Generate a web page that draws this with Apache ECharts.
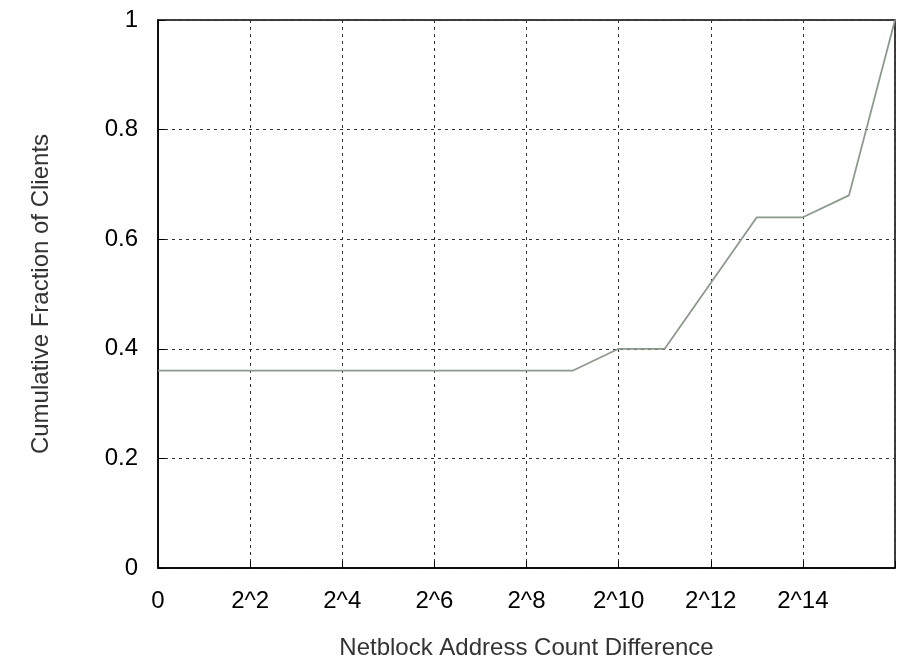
<!DOCTYPE html>
<html>
<head>
<meta charset="utf-8">
<script src="https://cdn.jsdelivr.net/npm/echarts@6/dist/echarts.min.js"></script>
<style>
  html, body { margin: 0; padding: 0; background: #fff; }
  #chart { width: 904px; height: 665px; }
</style>
</head>
<body>
<div id="chart"></div>
<script>
// x is log2 of the address count difference
const xExp = [0, 9, 10, 11, 12, 13, 14, 15, 16];
const cdf = [0.36, 0.36, 0.40, 0.40, 0.52, 0.64, 0.64, 0.68, 1.0];
const xTickLabels = ['0', '2^2', '2^4', '2^6', '2^8', '2^10', '2^12', '2^14', ''];

const chart = echarts.init(document.getElementById('chart'));
const font = 'Liberation Sans, Arial, sans-serif';

chart.setOption({
  animation: false,
  grid: { left: 158, right: 9, top: 20, bottom: 80, show: true, borderColor: '#000', borderWidth: 1.5 },
  xAxis: {
    type: 'value', min: 0, max: 16, interval: 2,
    name: 'Netblock Address Count Difference', nameLocation: 'middle', nameGap: 68,
    nameTextStyle: { fontFamily: font, fontSize: 24, color: '#333' },
    axisLine: { show: true, lineStyle: { color: '#000', width: 1.5 } },
    axisTick: { show: true, inside: true, length: 7, lineStyle: { color: '#000' } },
    axisLabel: {
      fontFamily: font, fontSize: 24, color: '#000', margin: 21,
      formatter: v => xTickLabels[v / 2]
    },
    splitLine: { show: true, lineStyle: { color: '#333', type: [3, 4], width: 1 } }
  },
  yAxis: {
    type: 'value', min: 0, max: 1, interval: 0.2,
    name: 'Cumulative Fraction of Clients', nameLocation: 'middle', nameGap: 105,
    nameTextStyle: { fontFamily: font, fontSize: 24, color: '#333' },
    axisLine: { show: true, lineStyle: { color: '#000', width: 1.5 } },
    axisTick: { show: true, inside: true, length: 7, lineStyle: { color: '#000' } },
    axisLabel: {
      fontFamily: font, fontSize: 24, color: '#000', margin: 20,
      formatter: v => (v === 0 || v === 1) ? String(v) : v.toFixed(1)
    },
    splitLine: { show: true, lineStyle: { color: '#333', type: [3, 4], width: 1 } }
  },
  series: [{
    type: 'line',
    data: xExp.map((x, i) => [x, cdf[i]]),
    showSymbol: false,
    lineStyle: { color: '#8c9a8c', width: 1.8 }
  }]
});
</script>
</body>
</html>
